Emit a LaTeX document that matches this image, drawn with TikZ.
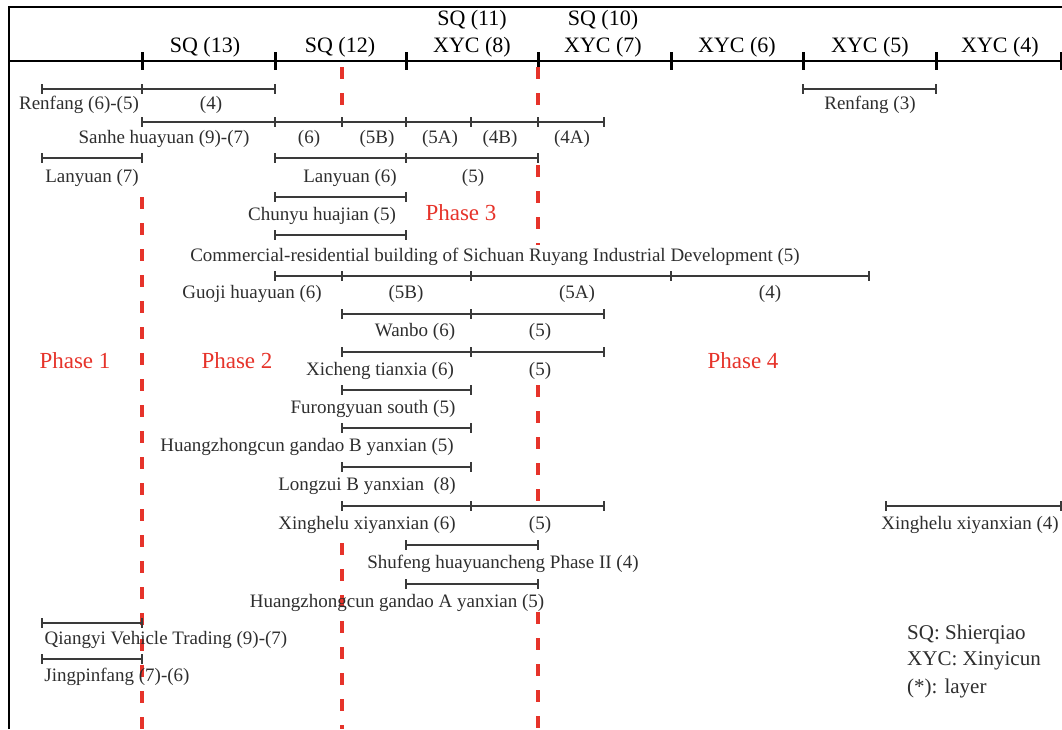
\documentclass[tikz,border=0pt]{standalone}
\usepackage{fontspec}
\setmainfont{Liberation Serif}
\definecolor{txtgray}{HTML}{2E2E2E}
\definecolor{bargray}{HTML}{3A3A3A}
\definecolor{phasered}{HTML}{E6332A}
% a horizontal span with end and division ticks: #1 = y, #2 = x positions of the ticks
\newcommand\spanbar[2]{%
  \foreach \xx [count=\n, remember=\xx as \xprev (initially 0)] in {#2}{%
    \draw[tickln] (\xx,#1-5) -- (\xx,#1+5);
    \ifnum\n>1 \draw[barline] (\xprev,#1) -- (\xx,#1);\fi
  }}
\begin{document}
\begin{tikzpicture}[x=1pt,y=-1pt,
  lbl/.style={font=\fontsize{19}{19}\selectfont, text=txtgray, inner sep=0pt},
  axlbl/.style={font=\fontsize{22}{22}\selectfont, text=black, inner sep=0pt},
  phaselbl/.style={font=\fontsize{23}{23}\selectfont, text=phasered, inner sep=0pt},
  legendlbl/.style={font=\fontsize{21}{21}\selectfont, text=txtgray, inner sep=0pt, anchor=west},
  barline/.style={draw=bargray, line width=1.5pt},
  tickln/.style={draw=bargray, line width=1.5pt},
  axisline/.style={draw=black, line width=2.5pt},
  axistick/.style={draw=black, line width=3pt},
  phaseline/.style={draw=phasered, line width=4pt, dash pattern=on 12pt off 14pt},
  frameline/.style={draw=black, line width=2pt}]

\useasboundingbox (0,0) rectangle (1062,729);

% frame (left and top edges)
\draw[frameline] (9,729) -- (9,7) -- (1062,7);

% time axis
\draw[axisline] (9,61) -- (1062,61);
\foreach \xx in {142,275,406,538,671,803,936,1061}
  \draw[axistick] (\xx,52) -- (\xx,70);

\node[axlbl] (sq13) at (205,47) {SQ (13)};
\node[axlbl] (sq12) at (340,47) {SQ (12)};
\node[axlbl] (sq11) at (472,20) {SQ (11)};
\node[axlbl] (xyc8) at (472,47) {XYC (8)};
\node[axlbl] (sq10) at (603,20) {SQ (10)};
\node[axlbl] (xyc7) at (603,47) {XYC (7)};
\node[axlbl] (xyc6) at (737,47) {XYC (6)};
\node[axlbl] (xyc5) at (870,47) {XYC (5)};
\node[axlbl] (xyc4) at (1000,47) {XYC (4)};

% phase boundaries
\draw[phaseline] (142,197) -- (142,729);
\draw[phaseline] (342,67) -- (342,114);
\draw[phaseline] (342,543) -- (342,729);
\draw[phaseline] (538,67) -- (538,116);
\draw[phaseline] (538,165) -- (538,245);
\draw[phaseline] (538,385) -- (538,502);
\draw[phaseline] (538,612) -- (538,729);

\node[phaselbl] (ph1) at (75,361) {Phase 1};
\node[phaselbl] (ph2) at (237,361) {Phase 2};
\node[phaselbl] (ph3) at (461,213) {Phase 3};
\node[phaselbl] (ph4) at (743,361) {Phase 4};

% construction spans
\spanbar{89}{42,142,275}
\spanbar{89}{803,936}
\node[lbl] (renfang) at (79,105) {Renfang (6)-(5)};
\node[lbl] (renfang4) at (211,105) {(4)};
\node[lbl] (renfang3) at (870,105) {Renfang (3)};

\spanbar{122}{142,275,342,406,471,538,604}
\node[lbl] (sanhe) at (164,139) {Sanhe huayuan (9)-(7)};
\node[lbl] (sanhe6) at (309,139) {(6)};
\node[lbl] (sanhe5b) at (377,139) {(5B)};
\node[lbl] (sanhe5a) at (440,139) {(5A)};
\node[lbl] (sanhe4b) at (500,139) {(4B)};
\node[lbl] (sanhe4a) at (572,139) {(4A)};

\spanbar{158}{42,142}
\spanbar{158}{275,406,538}
\node[lbl] (lanyuan7) at (92,178) {Lanyuan (7)};
\node[lbl] (lanyuan6) at (350,178) {Lanyuan (6)};
\node[lbl] (lanyuan5) at (473,178) {(5)};

\spanbar{197}{275,406}
\node[lbl] (chunyu) at (322,216) {Chunyu huajian (5)};

\spanbar{235}{275,406}
\node[lbl] (commercial) at (495,257) {Commercial-residential building of Sichuan Ruyang Industrial Development (5)};

\spanbar{276}{275,342,471,671,869}
\node[lbl] (guoji) at (252,294) {Guoji huayuan (6)};
\node[lbl] (guoji5b) at (406,294) {(5B)};
\node[lbl] (guoji5a) at (577,294) {(5A)};
\node[lbl] (guoji4) at (770,294) {(4)};

\spanbar{314}{342,471,604}
\node[lbl] (wanbo) at (415,332) {Wanbo (6)};
\node[lbl] (wanbo5) at (540,332) {(5)};

\spanbar{352}{342,471,604}
\node[lbl] (xicheng) at (380,371) {Xicheng tianxia (6)};
\node[lbl] (xicheng5) at (540,371) {(5)};

\spanbar{390}{342,471}
\node[lbl] (furong) at (373,409) {Furongyuan south (5)};

\spanbar{428}{342,471}
\node[lbl] (hzb) at (307,447) {Huangzhongcun gandao B yanxian (5)};

\spanbar{467}{342,471}
\node[lbl] (longzui) at (367,486) {Longzui B yanxian \ (8)};

\spanbar{506}{342,471,604}
\spanbar{506}{886,1061}
\node[lbl] (xinghelu) at (367,525) {Xinghelu xiyanxian (6)};
\node[lbl] (xinghelu5) at (540,525) {(5)};
\node[lbl] (xinghelu4) at (970,525) {Xinghelu xiyanxian (4)};

\spanbar{545}{406,538}
\node[lbl] (shufeng) at (503,564) {Shufeng huayuancheng Phase II (4)};

\spanbar{584}{406,538}
\node[lbl] (hza) at (397,603) {Huangzhongcun gandao A yanxian (5)};

\spanbar{623}{42,142}
\node[lbl] (qiangyi) at (166,640) {Qiangyi Vehicle Trading (9)-(7)};

\spanbar{659}{42,142}
\node[lbl] (jingpin) at (117,677) {Jingpinfang (7)-(6)};

% legend
\node[legendlbl] (legsq) at (907,634) {SQ: Shierqiao};
\node[legendlbl] (legxyc) at (907,661) {XYC: Xinyicun};
\node[legendlbl] (leglayer) at (907,688) {(*): layer};

\end{tikzpicture}
\end{document}
